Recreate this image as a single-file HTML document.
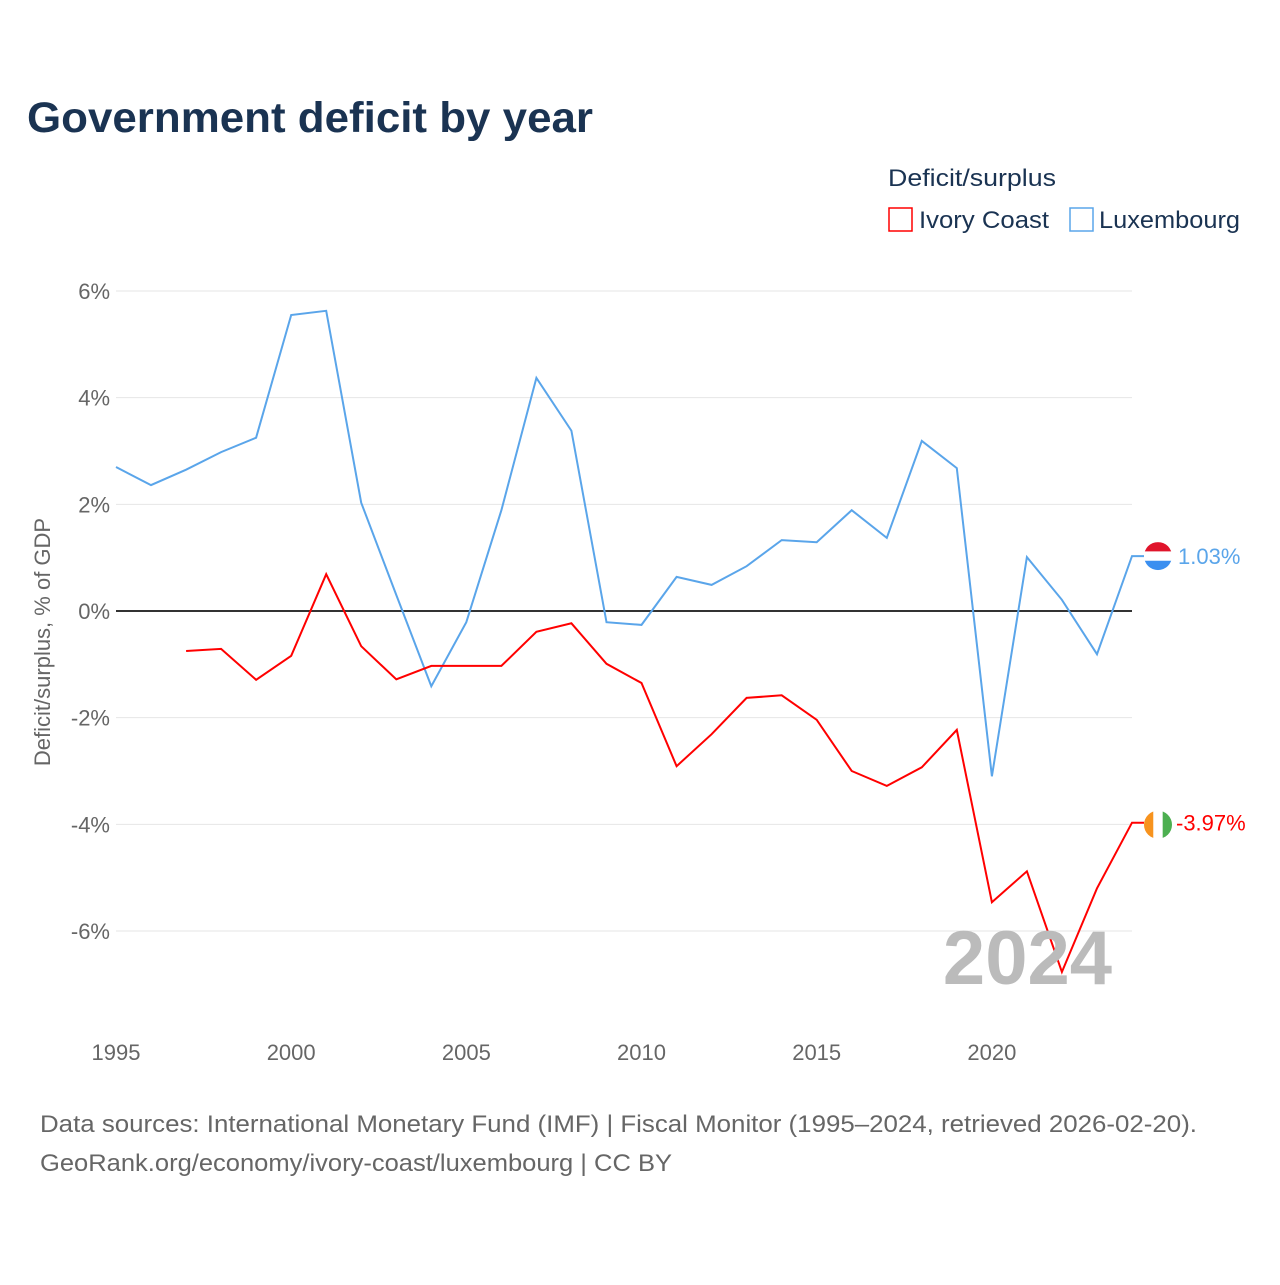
<!DOCTYPE html>
<html><head><meta charset="utf-8"><style>
body{margin:0;background:#fff;width:1280px;height:1280px;overflow:hidden;font-family:"Liberation Sans",sans-serif;}
svg text{font-family:"Liberation Sans",sans-serif;}
</style></head><body>
<svg id="chart" width="1280" height="1280">
<text x="27" y="132" font-size="43" font-weight="bold" fill="#1a3352" textLength="566" lengthAdjust="spacingAndGlyphs">Government deficit by year</text>
<text x="888" y="186" font-size="24" fill="#1a3352" textLength="168" lengthAdjust="spacingAndGlyphs">Deficit/surplus</text>
<g><rect x="889" y="208" width="23" height="23" fill="none" stroke="#f00" stroke-width="1.5"/><text x="919" y="228" font-size="24" fill="#1a3352" textLength="130" lengthAdjust="spacingAndGlyphs">Ivory Coast</text></g>
<g><rect x="1070" y="208" width="23" height="23" fill="none" stroke="#5aa5ea" stroke-width="1.5"/><text x="1099" y="228" font-size="24" fill="#1a3352" textLength="141" lengthAdjust="spacingAndGlyphs">Luxembourg</text></g>
<text transform="translate(50,642) rotate(-90)" text-anchor="middle" font-size="22" fill="#666">Deficit/surplus, % of GDP</text>
<g id="grid"></g><g id="series"></g>
<text x="1112" y="984" text-anchor="end" font-size="76" font-weight="bold" fill="#bbb">2024</text>
<text x="40" y="1132" font-size="24" fill="#666" textLength="1157" lengthAdjust="spacingAndGlyphs">Data sources: International Monetary Fund (IMF) | Fiscal Monitor (1995–2024, retrieved 2026-02-20).</text>
<text x="40" y="1171" font-size="24" fill="#666" textLength="632" lengthAdjust="spacingAndGlyphs">GeoRank.org/economy/ivory-coast/luxembourg | CC BY</text>
</svg>
<script>
const years=[1995,1996,1997,1998,1999,2000,2001,2002,2003,2004,2005,2006,2007,2008,2009,2010,2011,2012,2013,2014,2015,2016,2017,2018,2019,2020,2021,2022,2023,2024];
const luxembourg=[2.70,2.36,2.65,2.98,3.25,5.55,5.63,2.03,0.30,-1.41,-0.21,1.89,4.37,3.38,-0.21,-0.26,0.64,0.49,0.84,1.33,1.29,1.89,1.37,3.19,2.68,-3.10,1.01,0.21,-0.81,1.03];
const ivoryCoast=[null,null,-0.75,-0.71,-1.29,-0.84,0.69,-0.66,-1.28,-1.03,-1.03,-1.03,-0.39,-0.23,-0.99,-1.35,-2.91,-2.31,-1.63,-1.58,-2.04,-3.00,-3.28,-2.93,-2.23,-5.46,-4.88,-6.77,-5.20,-3.97];
const yTicks=[6,4,2,0,-2,-4,-6];
const xTicks=[1995,2000,2005,2010,2015,2020];
const NS="http://www.w3.org/2000/svg";
const xs=y=>116+(y-1995)*(1132-116)/29;
const ys=v=>611-v*53.33;
const grid=document.getElementById('grid'),ser=document.getElementById('series');
function mk(tag,attrs,parent){const e=document.createElementNS(NS,tag);for(const k in attrs)e.setAttribute(k,attrs[k]);parent.appendChild(e);return e;}
yTicks.forEach(t=>{
 const l=mk('line',{x1:116,x2:1132,y1:ys(t),y2:ys(t),stroke:t===0?'#333':'#e6e6e6','stroke-width':t===0?2:1},grid);
 
 
 const tx=mk('text',{x:110,y:ys(t)+8,'text-anchor':'end','font-size':22,fill:'#666'},grid);tx.textContent=t+'%';
 
 
});
xTicks.forEach(t=>{
 const tx=mk('text',{x:xs(t),y:1060,'text-anchor':'middle','font-size':22,fill:'#666'},grid);tx.textContent=t;
 
 
});
function line(vals,color,name){
 let d='';let started=false;
 vals.forEach((v,i)=>{if(v===null)return;d+=(started?'L':'M')+xs(years[i]).toFixed(1)+','+ys(v).toFixed(1);started=true;});
 const last=vals[vals.length-1];
 d+='L1144,'+ys(last).toFixed(1);
 const p=mk('path',{d:d,fill:'none',stroke:color,'stroke-width':2},ser);
 
 
 return last;
}
const lv=line(luxembourg,'#5aa5ea','line-luxembourg');
const iv=line(ivoryCoast,'#f00','line-ivory-coast');
const cyL=ys(lv);
const gL=mk('g',{},ser);


mk('clipPath',{id:'cl'},gL).appendChild(document.createElementNS(NS,'circle'));
const c1=gL.querySelector('circle');c1.setAttribute('cx',1158);c1.setAttribute('cy',cyL);c1.setAttribute('r',14);
[['#e0142b',0],['#fff',1],['#3b8ff0',2]].forEach(([c,i])=>mk('rect',{x:1144,y:cyL-14+i*9.34,width:28,height:9.4,fill:c,'clip-path':'url(#cl)'},gL));
const tl=mk('text',{x:1178,y:ys(lv)+8,'font-size':22,fill:'#5aa5ea'},ser);tl.textContent=lv.toFixed(2)+'%';


const cyI=ys(iv)+2;
const gI=mk('g',{},ser);


mk('clipPath',{id:'ci'},gI).appendChild(document.createElementNS(NS,'circle'));
const c2=gI.querySelector('circle');c2.setAttribute('cx',1158);c2.setAttribute('cy',cyI);c2.setAttribute('r',14);
[['#f7931e',0],['#fff',1],['#4caf50',2]].forEach(([c,i])=>mk('rect',{x:1144+i*9.34,y:cyI-14,width:9.4,height:28,fill:c,'clip-path':'url(#ci)'},gI));
const ti=mk('text',{x:1176,y:ys(iv)+8,'font-size':22,fill:'#f00'},ser);ti.textContent=iv.toFixed(2)+'%';


</script>
</body></html>
